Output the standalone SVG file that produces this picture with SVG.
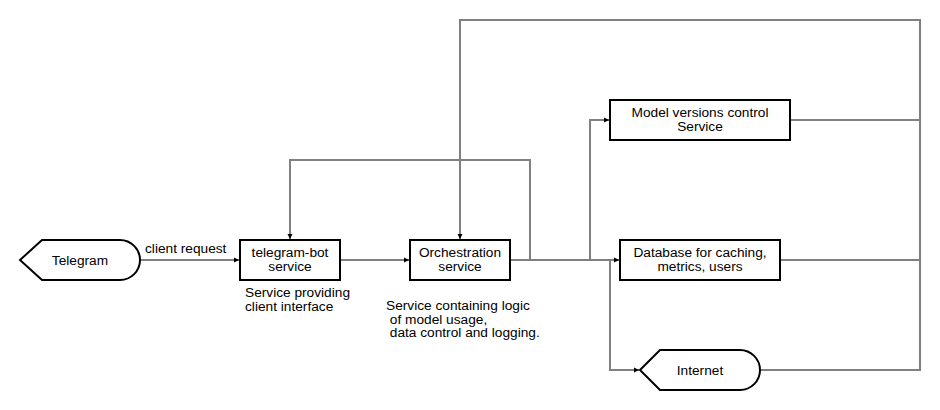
<svg xmlns="http://www.w3.org/2000/svg" width="940" height="410" viewBox="0 0 940 410">
<defs>
<marker id="arr" markerWidth="6" markerHeight="6" refX="5" refY="3" orient="auto" markerUnits="userSpaceOnUse">
<path d="M0,0.5 L5,3 L0,5.5 Z" fill="#000"/>
</marker>
<style>
.t{font-family:"Liberation Sans",Arial,sans-serif;font-size:13.7px;fill:#000}
.c{text-anchor:middle}
.box{fill:#fff;stroke:#000;stroke-width:2}
.ln{fill:none;stroke:#808080;stroke-width:2}
</style>
</defs>
<rect width="940" height="410" fill="#fff"/>
<g id="connectors">
<path class="ln" d="M140,260 H239" marker-end="url(#arr)"/>
<path class="ln" d="M340,260 H409" marker-end="url(#arr)"/>
<path class="ln" d="M510,260 H619" marker-end="url(#arr)"/>
<path class="ln" d="M530,260 V160 H290 V239" marker-end="url(#arr)"/>
<path class="ln" d="M590,260 V120 H609" marker-end="url(#arr)"/>
<path class="ln" d="M610,260 V370 H639" marker-end="url(#arr)"/>
<path class="ln" d="M790,120 H920"/>
<path class="ln" d="M780,260 H920"/>
<path class="ln" d="M760,370 H920 V20 H460 V239" marker-end="url(#arr)"/>
<text class="t" x="145" y="253">client request</text>
</g>
<g id="telegram">
<path class="box" d="M20,260 L42,240 H120 A20,20 0 0 1 120,280 H42 Z"/>
<text class="t c" x="80" y="265">Telegram</text>
</g>
<g id="telegram-bot">
<rect class="box" x="240" y="240" width="100" height="40"/>
<text class="t c" x="290" y="257">telegram-bot</text>
<text class="t c" x="290" y="270.5">service</text>
<text class="t" x="245" y="296.5">Service providing</text>
<text class="t" x="245" y="310.5">client interface</text>
</g>
<g id="orchestration">
<rect class="box" x="410" y="240" width="100" height="40"/>
<text class="t c" x="460" y="257">Orchestration</text>
<text class="t c" x="460" y="270.5">service</text>
<text class="t" x="386" y="310">Service containing logic</text>
<text class="t" x="386" y="323.5" xml:space="preserve"> of model usage,</text>
<text class="t" x="386" y="337" xml:space="preserve"> data control and logging.</text>
</g>
<g id="model-versions">
<rect class="box" x="610" y="100" width="180" height="40"/>
<text class="t c" x="700" y="117">Model versions control</text>
<text class="t c" x="700" y="130.5">Service</text>
</g>
<g id="database">
<rect class="box" x="620" y="240" width="160" height="40"/>
<text class="t c" x="700" y="257">Database for caching,</text>
<text class="t c" x="700" y="270.5">metrics, users</text>
</g>
<g id="internet">
<path class="box" d="M640,370 L660,350 H740 A20,20 0 0 1 740,390 H660 Z"/>
<text class="t c" x="700" y="375">Internet</text>
</g>
</svg>
